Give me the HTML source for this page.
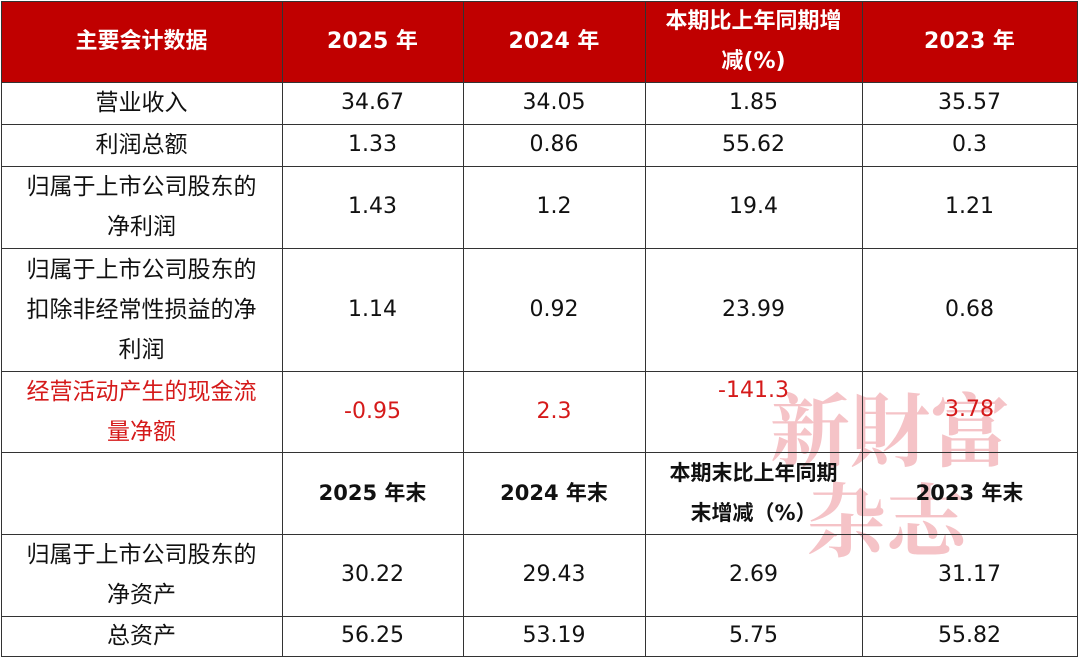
<!DOCTYPE html>
<html><head><meta charset="utf-8"><style>
body{margin:0;width:1080px;height:659px;background:#fff;overflow:hidden;font-family:"DejaVu Sans","Noto Sans CJK SC",sans-serif;}
.c{position:absolute;display:flex;align-items:center;justify-content:center;text-align:center;font-size:22px;line-height:40px;color:#111;box-sizing:border-box;}
.f{font-size:23px;}
.h{background:#c00000;color:#fff;font-weight:bold;font-size:22px;}
.b{font-weight:bold;font-size:21px;}
.r{color:#d51a1a;}
.l{position:absolute;background:#333;}
.wm{position:absolute;font-family:"Noto Serif CJK SC",serif;color:rgba(226,90,100,0.36);font-size:80px;line-height:1;font-weight:700;pointer-events:none;}
</style></head><body>
<div class="wm" style="left:770px;top:386px;">新財富</div>
<div class="wm" style="left:806px;top:476px;">杂志</div>
<div id="t"></div>
<script>
const xs=[1,282,463,645,862,1077];
const ys=[1,82,124,166,248,371,452,534,616,656];
const rows=[
 ["主要会计数据","2025 年","2024 年","本期比上年同期增<br>减(%)","2023 年"],
 ["营业收入","34.67","34.05","1.85","35.57"],
 ["利润总额","1.33","0.86","55.62","0.3"],
 ["归属于上市公司股东的<br>净利润","1.43","1.2","19.4","1.21"],
 ["归属于上市公司股东的<br>扣除非经常性损益的净<br>利润","1.14","0.92","23.99","0.68"],
 ["经营活动产生的现金流<br>量净额","-0.95","2.3","-141.3","3.78"],
 ["","2025 年末","2024 年末","本期末比上年同期<br>末增减（%）","2023 年末"],
 ["归属于上市公司股东的<br>净资产","30.22","29.43","2.69","31.17"],
 ["总资产","56.25","53.19","5.75","55.82"]
];
const t=document.getElementById('t');
rows.forEach((r,i)=>{
 r.forEach((txt,j)=>{
  const d=document.createElement('div');
  d.className='c'+(i==0?' h':'')+(i==6&&j>0?' b':'')+(i==5?' r':'')+(j==0&&i>0?' f':'');
  
  
  d.style.left=xs[j]+'px';d.style.top=ys[i]+'px';
  d.style.width=(xs[j+1]-xs[j])+'px';d.style.height=(ys[i+1]-ys[i])+'px';
  if(i==0){d.style.zIndex='-1';}
  if(i==5&&j==3){d.style.alignItems='flex-start';d.style.paddingTop='0px';}
  if(i==5&&j==4){d.style.paddingBottom='4px';}
  d.innerHTML=txt;
  t.appendChild(d);
 });
});
ys.forEach(y=>{const l=document.createElement('div');l.className='l';
 
 
 l.style.left='1px';l.style.top=y+'px';l.style.width='1077px';l.style.height='1px';t.appendChild(l);});
xs.forEach(x=>{const l=document.createElement('div');l.className='l';
 
 
 l.style.left=x+'px';l.style.top='1px';l.style.width='1px';l.style.height='656px';t.appendChild(l);});
</script>
</body></html>
